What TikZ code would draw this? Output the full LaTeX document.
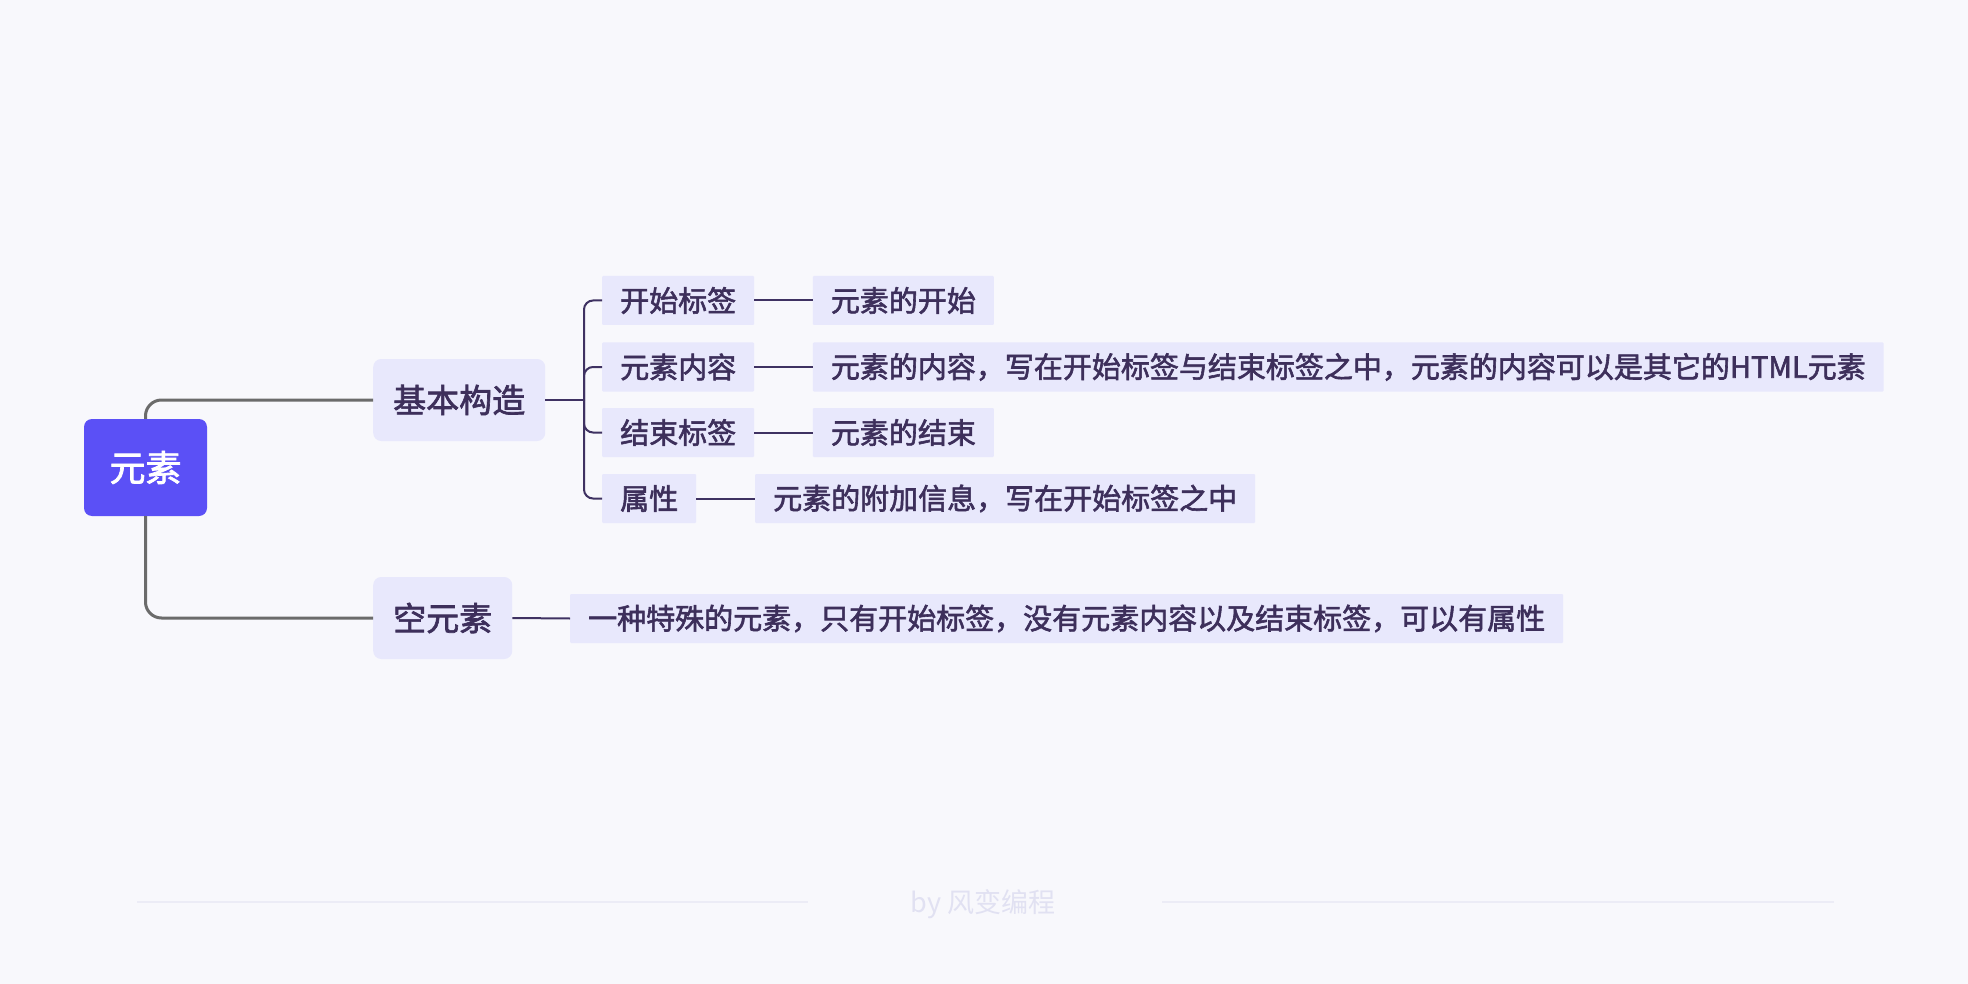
\documentclass[tikz,border=0pt]{standalone}
\usepackage{fontspec}
\setmainfont{Noto Sans CJK SC}
\newfontfamily\medfont[FakeBold=2]{Noto Sans CJK SC}
\definecolor{bgc}{HTML}{F8F8FC}
\definecolor{rootc}{HTML}{5B50F6}
\definecolor{nodec}{HTML}{E8E8FC}
\definecolor{txtc}{HTML}{3D2F5B}
\definecolor{grayline}{HTML}{6B6B6B}
\definecolor{purpline}{HTML}{3F3262}
\definecolor{footline}{HTML}{ECECF6}
\definecolor{foottxt}{HTML}{E1E1F2}
\tikzset{
  rootbox/.style={fill=rootc, text=white, rounded corners=8pt, minimum width=123pt, minimum height=97pt,
    font=\medfont\fontsize{36}{42}\selectfont},
  lvone/.style={fill=nodec, text=txtc, rounded corners=8pt, minimum height=82pt, inner xsep=20pt, anchor=west,
    font=\medfont\fontsize{33}{40}\selectfont},
  lvtwo/.style={fill=nodec, text=txtc, rounded corners=1pt, minimum height=49pt, inner xsep=18pt, anchor=west,
    font=\medfont\fontsize{29}{34}\selectfont},
  rootedge/.style={draw=grayline, line width=3pt, rounded corners=16pt},
  subedge/.style={draw=purpline, line width=2pt, rounded corners=9pt},
  footrule/.style={draw=footline, line width=2pt},
}
\begin{document}
\begin{tikzpicture}[x=1pt,y=-1pt]
\fill[bgc] (0,0) rectangle (1968,984);
\useasboundingbox (0,0) rectangle (1968,984);

\node[rootbox] (root) at (145.5,467.5) {元素};
\node[lvone] (jb) at (373,400) {基本构造};
\node[lvone] (kys) at (373,618) {空元素};

\node[lvtwo] (ks) at (602,300.5) {开始标签};
\node[lvtwo] (nr) at (602,367) {元素内容};
\node[lvtwo] (js) at (602,432.5) {结束标签};
\node[lvtwo] (sx) at (602,498.5) {属性};

\node[lvtwo] (d1) at (812.7,300.5) {元素的开始};
\node[lvtwo] (d2) at (812.7,367) {元素的内容，写在开始标签与结束标签之中，元素的内容可以是其它的HTML元素};
\node[lvtwo] (d3) at (812.7,432.5) {元素的结束};
\node[lvtwo] (d4) at (755,498.5) {元素的附加信息，写在开始标签之中};
\node[lvtwo] (d5) at (570,618.5) {一种特殊的元素，只有开始标签，没有元素内容以及结束标签，可以有属性};

\draw[rootedge] (root.north) |- (jb.west);
\draw[rootedge] (root.south) |- (kys.west);

\coordinate (br) at (584,400);
\draw[subedge] (jb.east) -- (br);
\draw[subedge] (br) |- (ks.west);
\draw[subedge] (br) |- (nr.west);
\draw[subedge] (br) |- (js.west);
\draw[subedge] (br) |- (sx.west);

\draw[subedge] (ks.east) -- (d1.west);
\draw[subedge] (nr.east) -- (d2.west);
\draw[subedge] (js.east) -- (d3.west);
\draw[subedge] (sx.east) -- (d4.west);
\draw[subedge] (kys.east) -- (d5.west);

\coordinate (fa) at (137,902);
\coordinate (fb) at (808,902);
\coordinate (fc) at (1162,902);
\coordinate (fd) at (1834,902);
\draw[footrule] (fa) -- (fb);
\draw[footrule] (fc) -- (fd);
\node[text=foottxt, font=\fontsize{27}{32}\selectfont] (foot) at (983,904) {by 风变编程};
\end{tikzpicture}
\end{document}
